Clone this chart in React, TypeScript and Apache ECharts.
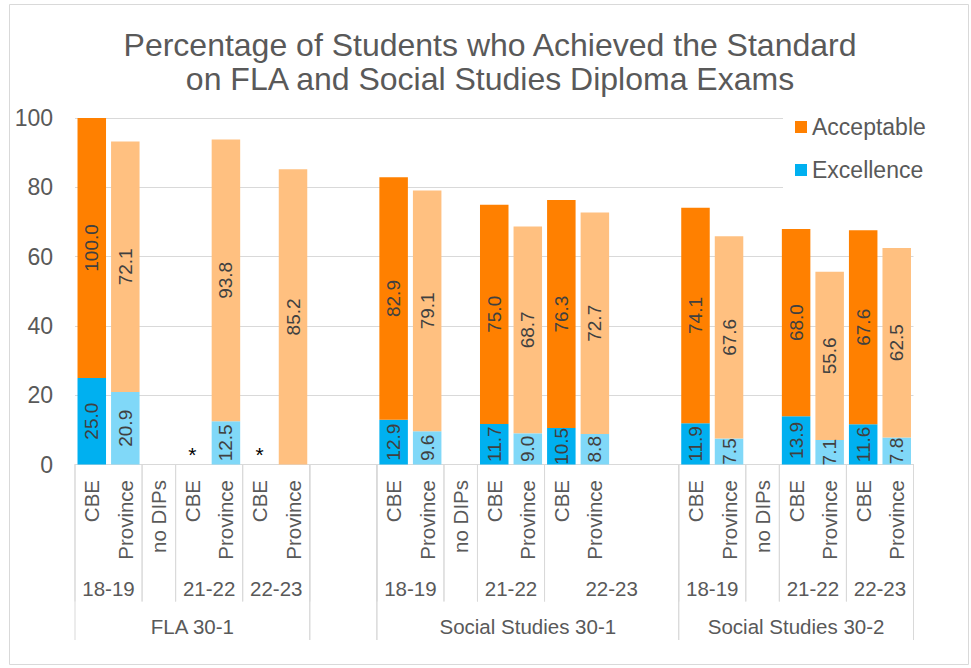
import { useEffect, useRef } from 'react';
import * as echarts from 'echarts';

const FONT = '"Liberation Sans", Arial, Helvetica, sans-serif';

// Level 1 (innermost) category labels, one per slot
const categories = [
  'CBE', 'Province', 'no DIPs', 'CBE', 'Province', 'CBE', 'Province',
  '', '',
  'CBE', 'Province', 'no DIPs', 'CBE', 'Province', 'CBE', 'Province', '', '',
  'CBE', 'Province', 'no DIPs', 'CBE', 'Province', 'CBE', 'Province',
];

// Excellence values (blue)
const excellence: (number | null)[] = [
  25.0, 20.9, null, null, 12.5, null, null,
  null, null,
  12.9, 9.6, null, 11.7, 9.0, 10.5, 8.8, null, null,
  11.9, 7.5, null, 13.9, 7.1, 11.6, 7.8,
];

// Height of the acceptable (orange) bar as drawn
const acceptableTop: (number | null)[] = [
  100.0, 93.2, null, null, 93.8, null, 85.2,
  null, null,
  82.9, 79.1, null, 75.0, 68.7, 76.3, 72.7, null, null,
  74.1, 65.9, null, 68.0, 55.6, 67.6, 62.5,
];

// Acceptable data labels as printed
const acceptableLabel = [
  '100.0', '72.1', '', '', '93.8', '', '85.2',
  '', '',
  '82.9', '79.1', '', '75.0', '68.7', '76.3', '72.7', '', '',
  '74.1', '67.6', '', '68.0', '55.6', '67.6', '62.5',
];

// Suppressed results shown as "*"
const suppressedSlots = [3, 5];

// Level 2 groups: [label, first slot, slot count]
const yearGroups: [string, number, number][] = [
  ['18-19', 0, 2], ['', 2, 1], ['21-22', 3, 2], ['22-23', 5, 2],
  ['', 7, 2],
  ['18-19', 9, 2], ['', 11, 1], ['21-22', 12, 2], ['22-23', 14, 4],
  ['18-19', 18, 2], ['', 20, 1], ['21-22', 21, 2], ['22-23', 23, 2],
];

// Level 3 groups: [label, first slot, slot count]
const subjectGroups: [string, number, number][] = [
  ['FLA 30-1', 0, 7], ['', 7, 2], ['Social Studies 30-1', 9, 9], ['Social Studies 30-2', 18, 7],
];

const yTicks = { min: 0, max: 100, interval: 20 };

const C_ACC = '#FF8000';
const C_ACC_L = '#FFC080';
const C_EXC = '#00B0F0';
const C_EXC_L = '#80D8F8';
const GRID_C = '#D9D9D9';
const TXT = '#595959';

function groupRenderer(groups: [string, number, number][], lineLen: number, labelDy: number) {
  return (params: any, api: any) => {
    const g = groups[params.dataIndex];
    const bw = api.size([1, 0])[0];
    const base = api.coord([g[1], 0]);
    const x0 = base[0] - bw / 2;
    const x1 = x0 + g[2] * bw;
    const y0 = base[1];
    return {
      type: 'group',
      children: [
        { type: 'line', shape: { x1: x0, y1: y0, x2: x0, y2: y0 + lineLen }, style: { stroke: GRID_C, lineWidth: 1 } },
        { type: 'line', shape: { x1: x1, y1: y0, x2: x1, y2: y0 + lineLen }, style: { stroke: GRID_C, lineWidth: 1 } },
        {
          type: 'text',
          x: (x0 + x1) / 2,
          y: y0 + labelDy,
          style: { text: g[0], fill: TXT, fontSize: 20.5, fontFamily: FONT, align: 'center', verticalAlign: 'middle' },
        },
      ],
    };
  };
}

export default function App() {
  const ref = useRef<HTMLDivElement>(null);

  useEffect(() => {
    document.body.style.margin = '0';
    if (!ref.current) return;
    const chart = echarts.init(ref.current, null, { renderer: 'svg' });

    const isProv = (i: number) => categories[i] === 'Province';

    const excData = excellence.map((v, i) => {
      if (suppressedSlots.includes(i)) {
        return {
          value: 0,
          label: { show: true, formatter: '*', position: 'top', rotate: 0, distance: 0, color: '#000', fontSize: 21 },
        };
      }
      if (v == null) {
        return acceptableTop[i] == null ? '-' : { value: 0, label: { show: false } };
      }
      return { value: v, itemStyle: { color: isProv(i) ? C_EXC_L : C_EXC } };
    });

    const accData = acceptableTop.map((t, i) => {
      if (t == null) return '-';
      const base = excellence[i] ?? 0;
      return { value: +(t - base).toFixed(2), itemStyle: { color: isProv(i) ? C_ACC_L : C_ACC } };
    });

    const dataLabel = {
      show: true,
      position: 'inside',
      rotate: 90,
      color: '#404040',
      fontSize: 19,
      fontFamily: FONT,
    };

    const option: any = {
      animation: false,
      textStyle: { fontFamily: FONT },
      graphic: [
        {
          type: 'rect',
          x: 9.5,
          y: 4.5,
          shape: { width: 959, height: 660 },
          style: { fill: 'none', stroke: GRID_C, lineWidth: 1 },
          silent: true,
          z: -10,
        },
        {
          type: 'text',
          x: 490,
          y: 28,
          style: {
            text: 'Percentage of Students who Achieved the Standard\non FLA and Social Studies Diploma Exams',
            fill: TXT,
            fontSize: 32,
            fontFamily: FONT,
            align: 'center',
            verticalAlign: 'top',
            lineHeight: 34,
          },
          silent: true,
        },
      ],
      legend: {
        data: ['Acceptable', 'Excellence'],
        orient: 'vertical',
        left: 783,
        top: 104,
        padding: [8, 12, 8, 12],
        backgroundColor: '#fff',
        itemWidth: 12,
        itemHeight: 12,
        itemGap: 13,
        icon: 'rect',
        textStyle: { fontSize: 23, color: TXT, fontFamily: FONT, lineHeight: 30 },
        selectedMode: false,
      },
      grid: { left: 75, right: 57.5, top: 118, bottom: 203.5 },
      xAxis: {
        type: 'category',
        data: categories,
        axisLine: { show: true, lineStyle: { color: GRID_C, width: 1 } },
        axisTick: { show: false },
        axisLabel: {
          interval: 0,
          rotate: 90,
          margin: 15.5,
          fontSize: 20.5,
          color: TXT,
          fontFamily: FONT,
        },
      },
      yAxis: {
        type: 'value',
        min: yTicks.min,
        max: yTicks.max,
        interval: yTicks.interval,
        axisLine: { show: false },
        axisTick: { show: false },
        axisLabel: { fontSize: 23, color: TXT, margin: 22, fontFamily: FONT },
        splitLine: { lineStyle: { color: GRID_C, width: 1 } },
      },
      series: [
        {
          name: 'Excellence',
          type: 'bar',
          stack: 'total',
          barCategoryGap: '15%',
          color: C_EXC,
          itemStyle: { color: C_EXC },
          label: {
            ...dataLabel,
            formatter: (p: any) => {
              const v = excellence[p.dataIndex];
              return v == null ? '' : v.toFixed(1);
            },
          },
          data: excData,
        },
        {
          name: 'Acceptable',
          type: 'bar',
          stack: 'total',
          barCategoryGap: '15%',
          color: C_ACC,
          itemStyle: { color: C_ACC },
          label: {
            ...dataLabel,
            formatter: (p: any) => acceptableLabel[p.dataIndex],
          },
          data: accData,
        },
        {
          name: 'yearAxis',
          type: 'custom',
          silent: true,
          renderItem: groupRenderer(yearGroups, 137, 123.5),
          encode: { x: 0, y: 1 },
          data: yearGroups.map((g) => [g[1], 0]),
          z: 10,
        },
        {
          name: 'subjectAxis',
          type: 'custom',
          silent: true,
          renderItem: groupRenderer(subjectGroups, 175.5, 162),
          encode: { x: 0, y: 1 },
          data: subjectGroups.map((g) => [g[1], 0]),
          z: 10,
        },
      ],
    };

    chart.setOption(option);
    return () => chart.dispose();
  }, []);

  return <div ref={ref} style={{ width: 971, height: 668 }} />;
}
